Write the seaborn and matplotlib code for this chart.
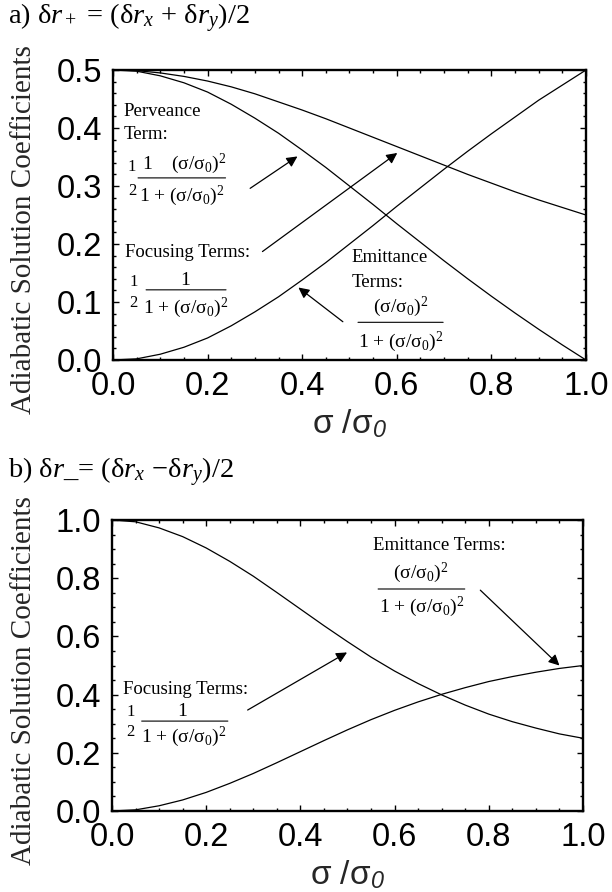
import matplotlib
matplotlib.use("Agg")
import matplotlib.pyplot as plt
from matplotlib.ticker import MultipleLocator, FixedLocator, FixedFormatter
import pandas as pd
import seaborn as sns

# ---- data -------------------------------------------------------------
sigma_ratio = [0.00, 0.05, 0.10, 0.15, 0.20, 0.25, 0.30, 0.35, 0.40, 0.45, 0.50,
               0.55, 0.60, 0.65, 0.70, 0.75, 0.80, 0.85, 0.90, 0.95, 1.00]

# panel a: dr+ coefficients
plus_focusing = [0.500, 0.499, 0.495, 0.489, 0.481, 0.471, 0.459, 0.445, 0.431, 0.416, 0.400,
                 0.384, 0.368, 0.352, 0.336, 0.320, 0.305, 0.290, 0.276, 0.263, 0.250]
plus_perveance = [0.500, 0.498, 0.490, 0.478, 0.462, 0.441, 0.417, 0.391, 0.362, 0.332, 0.300,
                  0.268, 0.235, 0.203, 0.171, 0.140, 0.110, 0.081, 0.053, 0.026, 0.000]
plus_emittance = [0.000, 0.002, 0.010, 0.022, 0.038, 0.059, 0.083, 0.109, 0.138, 0.168, 0.200,
                  0.232, 0.265, 0.297, 0.329, 0.360, 0.390, 0.419, 0.448, 0.474, 0.500]

# panel b: dr- coefficients
minus_focusing = [1.000, 0.994, 0.973, 0.943, 0.904, 0.858, 0.807, 0.751, 0.694, 0.637, 0.582,
                  0.529, 0.481, 0.438, 0.399, 0.364, 0.333, 0.307, 0.285, 0.265, 0.250]
minus_emittance = [0.000, 0.004, 0.018, 0.038, 0.064, 0.095, 0.129, 0.166, 0.204, 0.242, 0.279,
                   0.314, 0.346, 0.375, 0.401, 0.424, 0.445, 0.462, 0.477, 0.490, 0.500]

x_ticks = [0.0, 0.2, 0.4, 0.6, 0.8, 1.0]
x_tick_labels = ["0.0", "0.2", "0.4", "0.6", "0.8", "1.0"]
a_y_ticks = [0.0, 0.1, 0.2, 0.3, 0.4, 0.5]
a_y_tick_labels = ["0.0", "0.1", "0.2", "0.3", "0.4", "0.5"]
b_y_ticks = [0.0, 0.2, 0.4, 0.6, 0.8, 1.0]
b_y_tick_labels = ["0.0", "0.2", "0.4", "0.6", "0.8", "1.0"]

panel_a_title = r"a) δ$r_+$ = (δ$r_x$ + δ$r_y$)/2"
panel_b_title = r"b) δ$r$_= (δ$r_x$ −δ$r_y$)/2"
y_title = "Adiabatic Solution Coefficients"
x_title = r"σ /σ$_\mathsf{0}$"
ratio_sq = r"(σ/σ$_0$)$^2$"
one_plus = r"1 + (σ/σ$_0$)$^2$"

# ---- style ------------------------------------------------------------
sns.set_theme(style="ticks")
plt.rcParams.update({
    "font.family": ["Liberation Sans", "DejaVu Sans"],
    "mathtext.fontset": "custom",
    "mathtext.rm": "Liberation Serif",
    "mathtext.it": "Liberation Serif:italic",
    "mathtext.sf": "Liberation Sans:italic",
    "axes.edgecolor": "black",
    "xtick.color": "black",
    "ytick.color": "black",
    "text.color": "black",
})
SERIF = ["Liberation Serif", "DejaVu Serif"]
SANS = ["Liberation Sans", "DejaVu Sans"]

fig = plt.figure(figsize=(6.12, 8.92), dpi=100)
ax_a = fig.add_axes([0.1846, 0.5964, 0.7729, 0.3251])
ax_b = fig.add_axes([0.1830, 0.0908, 0.7696, 0.3262])


def style_axes(ax, ymax, yticks, ylabels, yminor):
    ax.set_xlim(0, 1)
    ax.set_ylim(0, ymax)
    ax.xaxis.set_major_locator(FixedLocator(x_ticks))
    ax.xaxis.set_major_formatter(FixedFormatter(x_tick_labels))
    ax.yaxis.set_major_locator(FixedLocator(yticks))
    ax.yaxis.set_major_formatter(FixedFormatter(ylabels))
    ax.xaxis.set_minor_locator(MultipleLocator(0.05))
    ax.yaxis.set_minor_locator(MultipleLocator(yminor))
    ax.tick_params(which="both", direction="in", top=True, right=True,
                   width=1.0, color="black")
    ax.tick_params(which="major", length=4.5, labelsize=23.5, pad=8)
    ax.tick_params(which="minor", length=2.5)
    for lab in ax.get_xticklabels() + ax.get_yticklabels():
        lab.set_family(SANS)
    for sp in ax.spines.values():
        sp.set_linewidth(1.7)
        sp.set_color("black")
        sp.set_visible(True)
    ax.set_xlabel(x_title, fontsize=24, family=SANS, labelpad=4)
    ax.set_ylabel(y_title, fontsize=21, family=SERIF)
    ax.yaxis.set_label_coords(-0.16, 0.45)
    ax.grid(False)


def curve(ax, yvals):
    df = pd.DataFrame({"ratio": sigma_ratio, "coef": yvals})
    sns.lineplot(data=df, x="ratio", y="coef", ax=ax, color="black",
                 linewidth=0.9, legend=False)


def label(ax, x, y, s, size=13.5, ha="left"):
    ax.text(x, y, s, ha=ha, va="center", fontsize=size, family=SERIF)


def bar(ax, x0, x1, y):
    ax.annotate("", xy=(x1, y), xytext=(x0, y),
                arrowprops=dict(arrowstyle="-", lw=0.8, color="black",
                                shrinkA=0, shrinkB=0))


def arrow(ax, tail, tip):
    ax.annotate("", xy=tip, xytext=tail,
                arrowprops=dict(arrowstyle="-|>", lw=0.9, color="black",
                                mutation_scale=16, shrinkA=0, shrinkB=0))


FR = 14  # fraction text size

# ---- panel a ----------------------------------------------------------
for vals in (plus_focusing, plus_perveance, plus_emittance):
    curve(ax_a, vals)
style_axes(ax_a, 0.5, a_y_ticks, a_y_tick_labels, 0.02)

label(ax_a, 0.023, 0.428, "Perveance")
label(ax_a, 0.023, 0.389, "Term:")
label(ax_a, 0.040, 0.333, "1", size=12, ha="center")
label(ax_a, 0.040, 0.292, "2", size=12, ha="center")
label(ax_a, 0.150, 0.338, "1    " + ratio_sq, size=FR, ha="center")
bar(ax_a, 0.053, 0.238, 0.314)
label(ax_a, 0.146, 0.283, one_plus, size=FR, ha="center")
arrow(ax_a, (0.290, 0.296), (0.390, 0.351))

label(ax_a, 0.025, 0.185, "Focusing Terms:")
label(ax_a, 0.043, 0.135, "1", size=12, ha="center")
label(ax_a, 0.043, 0.098, "2", size=12, ha="center")
label(ax_a, 0.152, 0.137, "1", size=FR, ha="center")
bar(ax_a, 0.070, 0.239, 0.121)
label(ax_a, 0.155, 0.090, one_plus, size=FR, ha="center")
arrow(ax_a, (0.316, 0.187), (0.601, 0.357))

label(ax_a, 0.505, 0.176, "Emittance")
label(ax_a, 0.505, 0.133, "Terms:")
label(ax_a, 0.607, 0.092, ratio_sq, size=FR, ha="center")
bar(ax_a, 0.518, 0.698, 0.065)
label(ax_a, 0.608, 0.032, one_plus, size=FR, ha="center")
arrow(ax_a, (0.486, 0.066), (0.392, 0.125))

fig.text(8 / 612, 1 - 18 / 892, panel_a_title, ha="left", va="center",
         fontsize=20.5, family=SERIF)

# ---- panel b ----------------------------------------------------------
for vals in (minus_focusing, minus_emittance):
    curve(ax_b, vals)
style_axes(ax_b, 1.0, b_y_ticks, b_y_tick_labels, 0.05)

label(ax_b, 0.555, 0.914, "Emittance Terms:")
label(ax_b, 0.656, 0.819, ratio_sq, size=FR, ha="center")
bar(ax_b, 0.565, 0.749, 0.763)
label(ax_b, 0.657, 0.702, one_plus, size=FR, ha="center")
arrow(ax_b, (0.782, 0.759), (0.950, 0.500))

label(ax_b, 0.023, 0.416, "Focusing Terms:")
label(ax_b, 0.040, 0.341, "1", size=12, ha="center")
label(ax_b, 0.040, 0.272, "2", size=12, ha="center")
label(ax_b, 0.150, 0.343, "1", size=FR, ha="center")
bar(ax_b, 0.063, 0.246, 0.309)
label(ax_b, 0.152, 0.255, one_plus, size=FR, ha="center")
arrow(ax_b, (0.288, 0.347), (0.499, 0.545))

fig.text(8 / 612, 1 - 472 / 892, panel_b_title, ha="left", va="center",
         fontsize=20.5, family=SERIF)

fig.savefig("out.png", dpi=100)
